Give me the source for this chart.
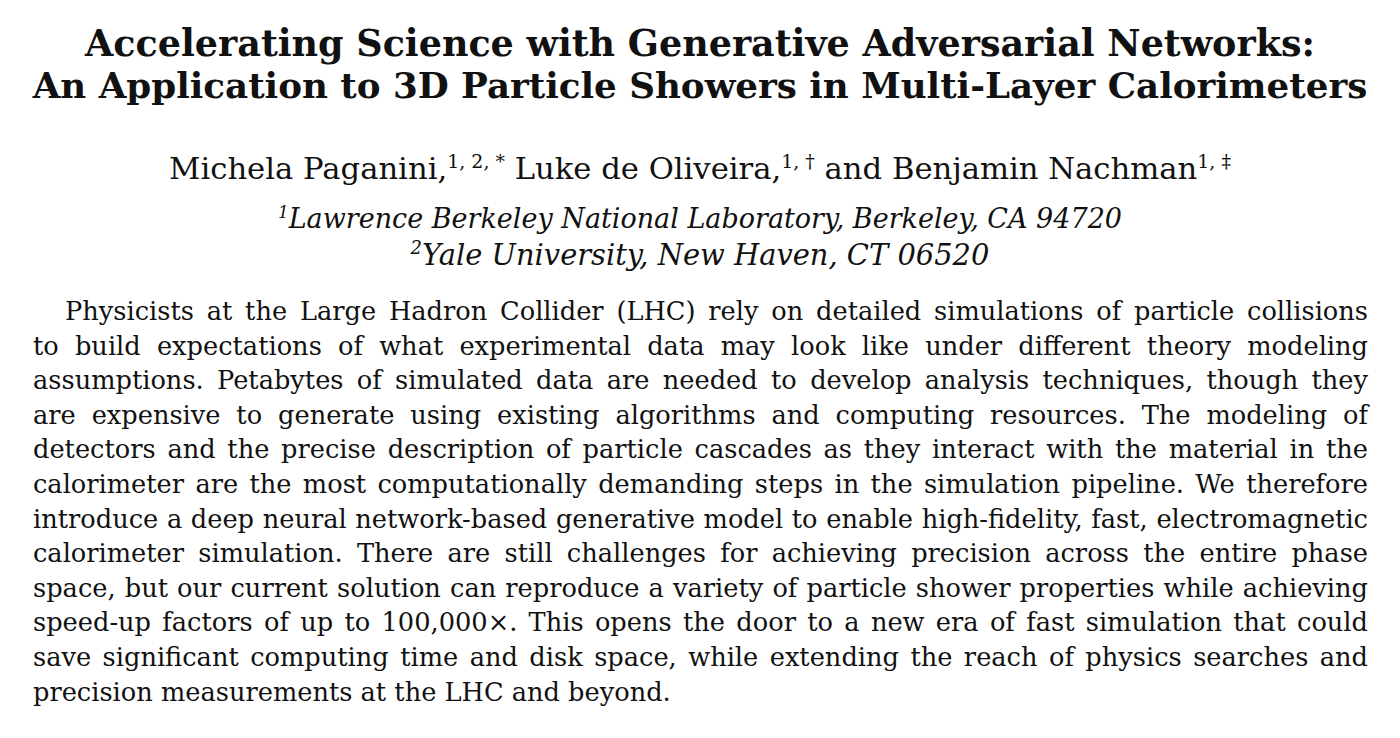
<!DOCTYPE html>
<html><head><meta charset="utf-8">
<script src="https://cdn.jsdelivr.net/npm/chart.js@4"></script>
<style>
body{margin:0;background:#fff;width:1400px;height:738px;overflow:hidden;font-family:"DejaVu Serif","Liberation Serif",serif;color:#111}
.c{text-align:center;position:absolute;left:0;width:1400px;white-space:nowrap}
.c span{display:inline-block}
.t{font-weight:bold}
.ab{position:absolute;left:33px;width:1335px;top:294px;font-size:24px}
.ab div{height:34.6px;line-height:34.6px;text-align:justify;text-align-last:justify;white-space:nowrap}
.ab div.last{text-align-last:left}
sup{font-size:0.62em}
</style></head><body>
<div class="c t" style="top:22px"><span data-w="1230" style="font-size:30px">Accelerating Science with Generative Adversarial Networks:</span></div>
<div class="c t" style="top:65px"><span data-w="1335" style="font-size:30px">An Application to 3D Particle Showers in Multi-Layer Calorimeters</span></div>
<div class="c" style="top:150px"><span data-w="1062" style="font-size:26px">Michela Paganini,<sup>1, 2, *</sup> Luke de Oliveira,<sup>1, †</sup> and Benjamin Nachman<sup>1, ‡</sup></span></div>
<div class="c" style="top:202px;font-style:italic"><span data-w="844" style="font-size:22px"><sup>1</sup>Lawrence Berkeley National Laboratory, Berkeley, CA 94720</span></div>
<div class="c" style="top:237px;font-style:italic"><span data-w="579" style="font-size:22px"><sup>2</sup>Yale University, New Haven, CT 06520</span></div>
<div class="ab" id="ab"></div>
<script>
var lines = [
 'Physicists at the Large Hadron Collider (LHC) rely on detailed simulations of particle collisions',
 'to build expectations of what experimental data may look like under different theory modeling',
 'assumptions. Petabytes of simulated data are needed to develop analysis techniques, though they',
 'are expensive to generate using existing algorithms and computing resources. The modeling of',
 'detectors and the precise description of particle cascades as they interact with the material in the',
 'calorimeter are the most computationally demanding steps in the simulation pipeline. We therefore',
 'introduce a deep neural network-based generative model to enable high-fidelity, fast, electromagnetic',
 'calorimeter simulation. There are still challenges for achieving precision across the entire phase',
 'space, but our current solution can reproduce a variety of particle shower properties while achieving',
 'speed-up factors of up to 100,000×. This opens the door to a new era of fast simulation that could',
 'save significant computing time and disk space, while extending the reach of physics searches and',
 'precision measurements at the LHC and beyond.'
];
var ab = document.getElementById('ab');
for (var i = 0; i < lines.length; i++) {
    var d = document.createElement('div');
    d.textContent = lines[i];
    if (i === 0) d.style.paddingLeft = '32px';
    if (i === lines.length - 1) d.className = 'last';
    ab.appendChild(d);
}
// fit headings to the widths seen in the reference
var spans = document.querySelectorAll('span[data-w]');
for (var j = 0; j < spans.length; j++) {
    var s = spans[j];
    var fs = parseFloat(s.style.fontSize);
    var w = s.getBoundingClientRect().width;
    s.style.fontSize = (fs * parseFloat(s.dataset.w) / w) + 'px';
}
// fit abstract font so the widest natural line just fits
var probe = document.createElement('span');
probe.style.whiteSpace = 'nowrap';
probe.style.fontSize = '24px';
document.body.appendChild(probe);
var maxW = 0;
for (var k = 0; k < lines.length - 1; k++) {
    probe.textContent = lines[k];
    var pw = probe.getBoundingClientRect().width + (k === 0 ? 32 : 0);
    if (pw > maxW) maxW = pw;
}
probe.remove();
ab.style.fontSize = Math.min(26, 24 * 1330 / maxW) + 'px';
</script>
</body></html>
